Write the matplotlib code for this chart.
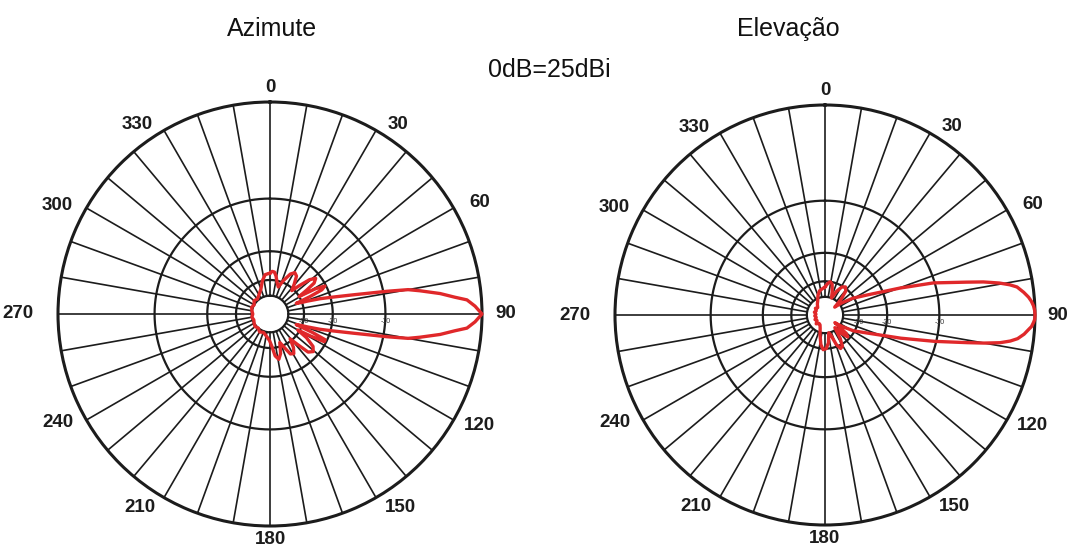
import numpy as np
import matplotlib
matplotlib.use('Agg')
import matplotlib.pyplot as plt
from matplotlib.transforms import offset_copy

plt.rcParams['font.family'] = ['Liberation Sans', 'DejaVu Sans']

# azimuth pattern, degrees (clockwise from 0) and relative gain in dB
az_deg = [0, 3, 6, 9, 13, 17, 22, 27, 31, 35, 39, 43, 46, 49, 52, 55, 57, 59,
          61, 63, 65, 66.5, 68,
          70, 71, 73, 75, 77, 78, 79, 80, 81.2, 83.15, 84.8, 85.9, 87.8, 90,
          92.2, 94.1, 95.2, 96.85, 98.8, 100, 101, 102, 103, 105, 107, 109, 110, 112,
          113.5, 115, 117, 118.5, 120, 123, 127, 131, 135, 138, 141, 145, 149, 153,
          157, 161, 165, 169, 173, 177, 181,
          190, 200, 210, 220, 230, 240, 250, 260, 270, 280, 290, 300, 310, 320,
          330, 340, 347, 353, 360]
az_db = [-27, -26.3, -26.5, -28, -31, -33, -29, -25.5, -24.3, -25, -28, -31, -27, -23, -21.3, -22.5, -26, -30,
         -23, -20.3, -21.5, -26, -33,
         -30, -27.5, -23, -19.3, -15, -12.5, -9.5, -6.8, -5.5, -3.5, -2.2, -1.17, -0.54, 0,
         -0.54, -1.17, -2.2, -3.5, -5.5, -6.8, -9.5, -12.5, -15, -19.3, -23, -27.5, -30, -33,
         -25, -20.5, -20.5, -25, -31, -26, -22.5, -21.5, -22.5, -27, -31, -27, -25, -25.5,
         -29, -32, -27, -25, -26.5, -31, -34,
         -37, -39, -38, -40, -39, -40, -41, -40, -41, -40, -39, -40, -38, -39,
         -37, -34, -30, -27.5, -27]

# elevation pattern
el_deg = [0, 5, 9, 13, 17, 21, 26, 31, 36, 41, 46, 51,
          54, 59, 64.5, 70.2, 73.5, 76.9, 78.2, 79.6, 80.7, 81.7, 83.5, 85, 86.2,
          87.5, 88.8, 90,
          91.2, 92, 93.2, 94, 95.5, 97, 98, 99, 100, 101, 103.5, 107, 113, 119, 124, 128,
          131, 134, 138, 142, 147, 151, 155, 159, 164, 168, 173, 178, 183, 188, 194,
          200, 207, 215, 225, 235, 245, 255, 265, 275, 285, 295, 305, 315, 325,
          333, 340, 347, 354, 360]
el_db = [-33, -31, -30, -31, -35, -40, -34, -30.5, -29.5, -31, -37, -46,
         -38, -30.5, -24.8, -16, -10.2, -6.1, -4.3, -2.8, -1.9, -1.3, -0.8, -0.45, -0.25,
         -0.1, -0.02, 0,
         -0.02, -0.1, -0.25, -0.45, -0.8, -1.3, -1.9, -2.8, -4.3, -6.1, -10.2, -16, -24.8, -30.5, -38, -46,
         -33, -31, -35, -42, -33, -29, -28.5, -31, -38, -40, -33, -30, -29.5, -32, -38,
         -44, -48, -49, -46, -50, -48, -51, -49, -51, -48, -50, -47, -49, -45,
         -42, -38, -35, -34, -33]

ring_levels = [-40, -30, -20, -10]
rlabel_levels = [-30, -20, -10]
rlabel_text = ['-30', '-20', '-10']
spoke_angles = np.arange(0, 360, 10)

label_text = ['0', '30', '60', '90', '120', '150', '180', '210', '240', '270', '300', '330']
label_ang = [0, 34, 62, 90, 118, 146, 180, 214, 243, 270, 297, 325]
label_f = [1.07, 1.08, 1.12, 1.11, 1.12, 1.10, 1.065, 1.10, 1.125, 1.19, 1.125, 1.09]

GRID = '#1c1c1c'
RED = '#e0282a'


def db_to_r(db):
    return 10 ** (np.asarray(db, dtype=float) / 38.0)


def r_to_db(r):
    return 38.0 * np.log10(np.maximum(np.asarray(r, dtype=float), 1e-12))


def draw_pattern(fig, ax, angles, gains):
    ax.set_theta_zero_location('N')
    ax.set_theta_direction(-1)
    ax.set_rscale('function', functions=(db_to_r, r_to_db))
    ax.set_rlim(-100, 0)
    ax.set_xticks([])
    ax.set_yticks([])
    ax.grid(False)
    ax.spines['polar'].set_linewidth(2.2)
    ax.spines['polar'].set_color(GRID)

    # rings
    th = np.linspace(0, 2 * np.pi, 721)
    for lvl in ring_levels:
        ax.plot(th, np.full_like(th, lvl), color=GRID, lw=1.6, zorder=2)

    # spokes every 10 degrees, stopping at the -40 ring
    for a in spoke_angles:
        ax.plot([np.deg2rad(a)] * 2, [-40, 0], color=GRID, lw=1.2, zorder=2)

    # pattern
    ax.plot(np.deg2rad(angles), gains, color=RED, lw=2.4, zorder=4,
            clip_on=False, solid_joinstyle='round')

    # radial labels just below the 90 degree spoke
    trans = offset_copy(ax.transData, fig=fig, x=0, y=-3, units='points')
    for lvl, txt in zip(rlabel_levels, rlabel_text):
        ax.text(np.deg2rad(90), lvl, txt, transform=trans, ha='center', va='top',
                fontsize=5, color='#333333', zorder=5)

    # angle labels
    for txt, a, f in zip(label_text, label_ang, label_f):
        t = np.deg2rad(a)
        ax.text(0.5 + 0.5 * f * np.sin(t), 0.5 + 0.5 * f * np.cos(t), txt,
                transform=ax.transAxes, ha='center', va='center',
                fontsize=13.5, fontweight='bold', color='#1c1c1c')


W, H = 1076, 548
fig = plt.figure(figsize=(W / 100, H / 100), dpi=100)

ax1 = fig.add_axes([58 / W, (H - 314 - 212) / H, 424 / W, 424 / H], projection='polar')
ax2 = fig.add_axes([615 / W, (H - 315 - 210) / H, 420 / W, 420 / H], projection='polar')

draw_pattern(fig, ax1, az_deg, az_db)
draw_pattern(fig, ax2, el_deg, el_db)

fig.text(272 / W, 1 - 29 / H, 'Azimute', ha='center', va='center', fontsize=18, color='#111111')
fig.text(788 / W, 1 - 29 / H, 'Elevação', ha='center', va='center', fontsize=18, color='#111111')
fig.text(549 / W, 1 - 70 / H, '0dB=25dBi', ha='center', va='center', fontsize=18, color='#111111')

fig.savefig('out.png', dpi=100)
